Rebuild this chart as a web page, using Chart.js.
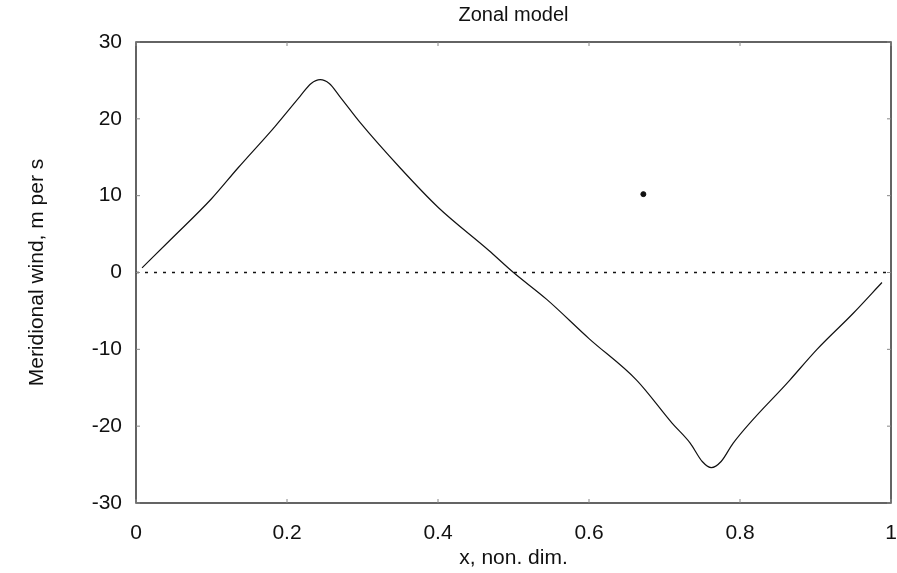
<!DOCTYPE html>
<html>
<head>
<meta charset="utf-8">
<script src="https://cdn.jsdelivr.net/npm/chart.js"></script>
<style>
  html, body { margin: 0; padding: 0; background: #fff; }
  #wrap { width: 897px; height: 573px; }
</style>
</head>
<body>
<div id="wrap"><canvas id="windChart"></canvas></div>
<script>
// Dữ liệu
const xValues = [0.008, 0.045, 0.1, 0.135, 0.184, 0.217, 0.232, 0.244, 0.256, 0.270, 0.297, 0.35, 0.40, 0.467, 0.50,
  0.544, 0.60, 0.663, 0.710, 0.734, 0.750, 0.762, 0.775, 0.791, 0.866, 0.902, 0.95, 0.988];
const windValues = [0.6, 4.2, 9.6, 13.6, 19.0, 22.9, 24.6, 25.1, 24.6, 22.9, 19.5, 13.6, 8.5, 2.9, 0,
  -3.5, -8.6, -14.0, -19.6, -22.2, -24.6, -25.4, -24.6, -22.2, -14.0, -10.0, -5.3, -1.3];
const zeroX = [0, 1];
const zeroY = [0, 0];
const markerX = [0.672];
const markerY = [10.2];
const xTicks = [0, 0.2, 0.4, 0.6, 0.8, 1];
const yTicks = [-30, -20, -10, 0, 10, 20, 30];

const toPoints = (xs, ys) => xs.map((x, i) => ({ x: x, y: ys[i] }));
const FONT = "'Liberation Sans', Arial, sans-serif";

// Khung, vạch chia hướng vào trong và tiêu đề
const framePlugin = {
  id: 'frame',
  afterDraw(chart) {
    const { ctx, chartArea: a, scales } = chart;
    ctx.save();
    ctx.strokeStyle = '#111';
    ctx.lineWidth = 1.3;
    ctx.strokeRect(a.left, a.top, a.right - a.left, a.bottom - a.top);
    ctx.lineWidth = 1;
    ctx.strokeStyle = '#888';
    xTicks.forEach(v => {
      const px = scales.x.getPixelForValue(v);
      ctx.beginPath();
      ctx.moveTo(px, a.bottom); ctx.lineTo(px, a.bottom - 4);
      ctx.moveTo(px, a.top); ctx.lineTo(px, a.top + 4);
      ctx.stroke();
    });
    yTicks.forEach(v => {
      const py = scales.y.getPixelForValue(v);
      ctx.beginPath();
      ctx.moveTo(a.left, py); ctx.lineTo(a.left + 4, py);
      ctx.moveTo(a.right, py); ctx.lineTo(a.right - 4, py);
      ctx.stroke();
    });
    ctx.fillStyle = '#111';
    ctx.font = '20px ' + FONT;
    ctx.textAlign = 'center';
    ctx.textBaseline = 'middle';
    ctx.fillText('Zonal model', (a.left + a.right) / 2, 15);
    ctx.restore();
  }
};

const ctx = document.getElementById('windChart').getContext('2d');
new Chart(ctx, {
  type: 'scatter',
  data: {
    datasets: [
      {
        data: toPoints(xValues, windValues),
        showLine: true,
        borderColor: '#111',
        borderWidth: 1.2,
        pointRadius: 0,
        tension: 0.3,
        cubicInterpolationMode: 'monotone'
      },
      {
        data: toPoints(zeroX, zeroY),
        showLine: true,
        borderColor: '#111',
        borderWidth: 1.3,
        borderDash: [3, 6],
        pointRadius: 0
      },
      {
        data: toPoints(markerX, markerY),
        pointRadius: 2.5,
        backgroundColor: '#111',
        borderColor: '#111'
      }
    ]
  },
  options: {
    responsive: true,
    maintainAspectRatio: false,
    animation: false,
    layout: { padding: { left: 0, right: 6, top: 42, bottom: 0 } },
    plugins: {
      legend: { display: false },
      tooltip: { enabled: false }
    },
    scales: {
      x: {
        type: 'linear',
        min: 0,
        max: 1,
        afterBuildTicks: s => { s.ticks = xTicks.map(v => ({ value: v })); },
        afterFit: s => { s.height = 70; s.paddingLeft = 0; s.paddingRight = 0; },
        grid: { display: false, drawTicks: false },
        border: { display: false },
        ticks: {
          color: '#111',
          padding: 18,
          maxRotation: 0,
          font: { family: FONT, size: 21 },
          callback: v => String(v)
        },
        title: {
          display: true,
          text: 'x, non. dim.',
          color: '#111',
          font: { family: FONT, size: 21 },
          padding: { top: 0, bottom: 2 }
        }
      },
      y: {
        type: 'linear',
        min: -30,
        max: 30,
        afterBuildTicks: s => { s.ticks = yTicks.map(v => ({ value: v })); },
        afterFit: s => { s.width = 136; },
        grid: { display: false, drawTicks: false },
        border: { display: false },
        ticks: {
          color: '#111',
          padding: 14,
          font: { family: FONT, size: 21 }
        },
        title: {
          display: true,
          text: 'Meridional wind, m per s',
          color: '#111',
          font: { family: FONT, size: 21 },
          padding: { top: 25, bottom: 0 }
        }
      }
    }
  },
  plugins: [framePlugin]
});
</script>
</body>
</html>
